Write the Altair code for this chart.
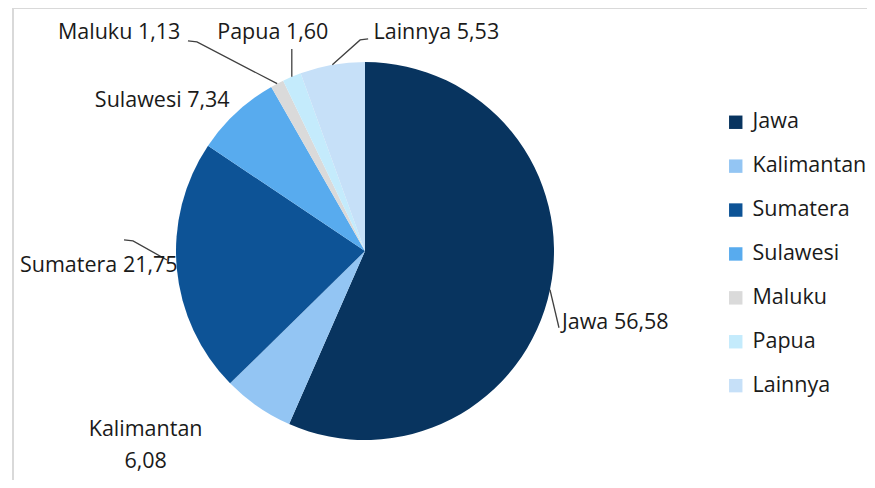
import math
import altair as alt
import pandas as pd

# ---- data ----
regions = ["Jawa", "Kalimantan", "Sumatera", "Sulawesi", "Maluku", "Papua", "Lainnya"]
shares = [56.58, 6.08, 21.75, 7.34, 1.13, 1.60, 5.53]
share_text = ["56,58", "6,08", "21,75", "7,34", "1,13", "1,60", "5,53"]
colors = ["#08345F", "#93C5F3", "#0D5396", "#58ABEE", "#DADADA", "#C4EBFC", "#C6E0F8"]

# ---- layout / style ----
W, H = 854, 472
CX, CY, R = 352, 243, 189
FONT = "Open Sans"
FS = 21.5
TXT = "#1A1A1A"

# label centre offsets from slice outer edge (at mid angle)
LABEL_OFF = {
    "Jawa": (12, 33),
    "Kalimantan": (-112, 23.5),
    "Sumatera": (-78, -2.5),
    "Sulawesi": (-74, -11.6),
    "Maluku": (-158, -50.7),
    "Papua": (-19, -43.8),
    "Lainnya": (104, -31.9),
}
# leader line points as offsets from slice outer edge
LEADER_OFF = {
    "Jawa": [(0, 0), (9, 38)],
    "Sumatera": [(-9.8, -8.5), (-43.8, -27.5), (-52.8, -28.5)],
    "Maluku": [(0, 0), (-80.2, -41.7), (-89.2, -42.7)],
    "Papua": [(0, 0), (0, -27.8)],
    "Lainnya": [(0, 0), (27.8, -24.9), (35.8, -25.9)],
}

total = sum(shares)
pie_df = pd.DataFrame({"region": regions, "share": shares, "idx": list(range(len(regions)))})

edge = {}
cum = 0.0
for reg, v in zip(regions, shares):
    mid = (cum + v / 2) / total * 2 * math.pi
    edge[reg] = (CX + R * math.sin(mid), CY - R * math.cos(mid))
    cum += v

text_rows = []
for reg, st in zip(regions, share_text):
    ex, ey = edge[reg]
    dx, dy = LABEL_OFF[reg]
    label = f"{reg}\n{st}" if reg == "Kalimantan" else f"{reg} {st}"
    text_rows.append({"region": reg, "label": label, "x": ex + dx, "y": ey + dy,
                      "left": reg == "Jawa"})
text_df = pd.DataFrame(text_rows)

line_rows = []
for reg, pts in LEADER_OFF.items():
    ex, ey = edge[reg]
    for i, (dx, dy) in enumerate(pts):
        line_rows.append({"seg": reg, "i": i, "x": ex + dx, "y": ey + dy})
line_df = pd.DataFrame(line_rows)

color_scale = alt.Scale(domain=regions, range=colors)

pie = alt.Chart(pie_df).mark_arc(outerRadius=R).encode(
    theta=alt.Theta("share:Q", stack=True),
    order=alt.Order("idx:Q"),
    color=alt.Color("region:N", scale=color_scale, sort=regions,
                    legend=alt.Legend(orient="none", legendX=712, legendY=103.5, title=None,
                                      symbolType="square", symbolSize=180,
                                      symbolStrokeWidth=0, labelFont=FONT,
                                      labelFontSize=FS, labelColor=TXT,
                                      rowPadding=20.9, padding=0, labelOffset=6)),
    x=alt.value(CX),
    y=alt.value(CY),
)

leaders = alt.Chart(line_df).mark_line(color="#404040", strokeWidth=1.3).encode(
    x=alt.X("x:Q", scale=None, axis=None),
    y=alt.Y("y:Q", scale=None, axis=None),
    detail="seg:N",
    order="i:Q",
)

labels_c = alt.Chart(text_df).transform_filter("!datum.left").mark_text(
    font=FONT, fontSize=FS, color=TXT, align="center", baseline="middle",
    lineBreak="\n", lineHeight=32,
).encode(x=alt.X("x:Q", scale=None), y=alt.Y("y:Q", scale=None), text="label:N")

labels_l = alt.Chart(text_df).transform_filter("datum.left").mark_text(
    font=FONT, fontSize=FS, color=TXT, align="left", baseline="middle",
).encode(x=alt.X("x:Q", scale=None), y=alt.Y("y:Q", scale=None), text="label:N")

frame_top = alt.Chart(pie_df).mark_rule(color="#D9D9D9", strokeWidth=1.5).encode(
    x=alt.value(0), x2=alt.value(W), y=alt.value(0))
frame_left = alt.Chart(pie_df).mark_rule(color="#D9D9D9", strokeWidth=1.5).encode(
    x=alt.value(0), y=alt.value(0), y2=alt.value(H))

chart = alt.layer(frame_top, frame_left, pie, leaders, labels_c, labels_l).properties(
    width=W, height=H,
    padding={"left": 5, "top": 0, "right": 0, "bottom": 0},
    autosize=alt.AutoSizeParams(type="none"),
).configure_view(stroke=None).configure(background="white")

chart.save("out.html", embed_options={"renderer": "svg", "actions": False})
